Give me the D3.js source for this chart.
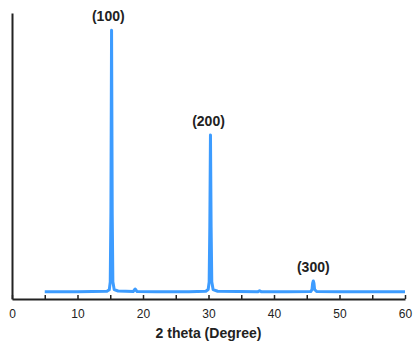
<!DOCTYPE html>
<html>
<head>
<meta charset="utf-8">
<style> body { margin: 0; background: #fff; } text { font-family: "Liberation Sans", Arial, sans-serif; } </style>
<script src="https://d3js.org/d3.v7.min.js"></script>
</head>
<body>
<div id="chart"></div>
<script>
var W = 414, H = 341;

// pattern (2 theta, intensity in arbitrary units)
var twoTheta = [5, 10, 14.5, 14.85, 15.0, 15.1, 15.2, 15.3, 15.4, 15.6, 16.2, 18.5, 18.8, 19.1, 22, 27, 29.6, 29.95, 30.1, 30.2, 30.3, 30.4, 30.5, 30.7, 31.4, 37.5, 37.8, 38.1, 42, 45.6, 45.8, 45.9, 46.0, 46.1, 46.2, 46.5, 50, 55, 60];
var intensity = [25, 25, 27, 32, 60, 300, 940, 300, 60, 33, 28, 26, 35, 26, 25, 25, 27, 33, 60, 250, 573, 250, 60, 33, 27, 25, 29, 25, 25, 26, 33, 55, 63, 55, 33, 26, 25, 25, 25];

var peakLabels = ["(100)", "(200)", "(300)"];
var peakPos = [14.7, 30.0, 46.0];
var peakTop = [940, 573, 63];

var xTicks = [0, 10, 20, 30, 40, 50, 60];
var xMinor = [5, 15, 25, 35, 45, 55];

var margin = { top: 13, right: 9, bottom: 42, left: 12 };
var width = W - margin.left - margin.right,
    height = H - margin.top - margin.bottom;

var svg = d3.select("#chart").append("svg")
    .attr("width", W)
    .attr("height", H);

var g = svg.append("g")
    .attr("transform", "translate(" + margin.left + "," + margin.top + ")");

var x = d3.scaleLinear().domain([0, 60]).range([0, width]);
var y = d3.scaleLinear().domain([0, 1000]).range([height, 0]);

var data = twoTheta.map((t, i) => ({ t: t, v: intensity[i] }));

g.append("path")
    .datum(data)
    .attr("fill", "none")
    .attr("stroke", "#3d9cff")
    .attr("stroke-width", 3)
    .attr("stroke-linejoin", "round")
    .attr("d", d3.line().x(d => x(d.t)).y(d => y(d.v)));

// x axis, ticks pointing inward
var xx = g.append("g")
    .attr("transform", "translate(0," + height + ")")
    .call(d3.axisBottom(x).tickValues(xTicks.concat(xMinor)).tickSizeInner(-4).tickSizeOuter(0)
        .tickFormat(d => xTicks.includes(d) ? d : ""));
xx.select(".domain").attr("stroke", "#222").attr("stroke-width", 2);
xx.selectAll("line").attr("stroke", "#222").attr("stroke-width", 1.5);
xx.selectAll("text").attr("y", 10).attr("font-size", 12).attr("fill", "#222")
    .style("font-family", "'Liberation Sans', Arial, sans-serif");

// y axis line only
var yx = g.append("g")
    .call(d3.axisLeft(y).tickValues([]).tickSizeOuter(0));
yx.select(".domain").attr("stroke", "#222").attr("stroke-width", 2);

g.append("text")
    .attr("x", width / 2)
    .attr("y", height + 39)
    .attr("text-anchor", "middle")
    .attr("font-size", 14)
    .attr("font-weight", "bold")
    .attr("fill", "#222")
    .text("2 theta (Degree)");

g.selectAll(".peak")
    .data(peakLabels)
    .enter().append("text")
    .attr("class", "peak")
    .attr("x", (d, i) => x(peakPos[i]))
    .attr("y", (d, i) => y(peakTop[i]) - 9)
    .attr("text-anchor", "middle")
    .attr("font-size", 14)
    .attr("font-weight", "bold")
    .attr("fill", "#222")
    .text(d => d);
</script>
</body>
</html>
